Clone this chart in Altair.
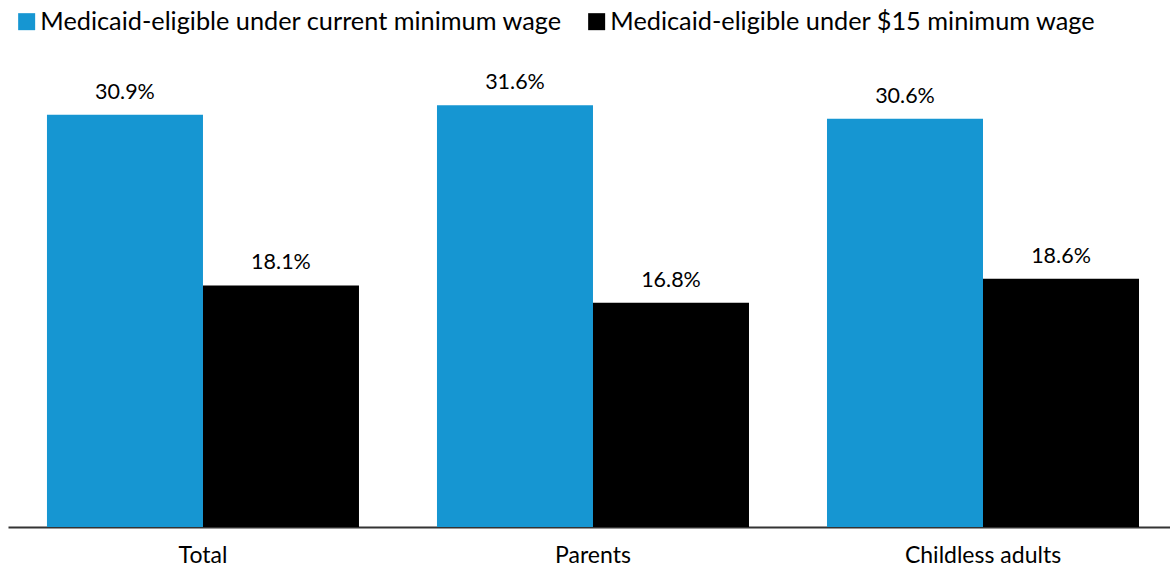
import altair as alt
import pandas as pd

categories = ["Total", "Parents", "Childless adults"]
series_names = ["Medicaid-eligible under current minimum wage", "Medicaid-eligible under $15 minimum wage"]
current_wage = [30.9, 31.6, 30.6]
fifteen_wage = [18.1, 16.8, 18.6]
colors = ["#1696d2", "#000000"]

rows = []
for c, a, b in zip(categories, current_wage, fifteen_wage):
    rows.append({"category": c, "series": series_names[0], "value": a})
    rows.append({"category": c, "series": series_names[1], "value": b})
df = pd.DataFrame(rows)

FONT = "Lato"

x = alt.X("category:N", sort=categories, title=None,
          scale=alt.Scale(paddingInner=0.2, paddingOuter=0.0897, align=0.557),
          axis=alt.Axis(labelAngle=0, labelFont=FONT, labelFontSize=23, labelColor="#000000",
                        labelPadding=17, ticks=False, domainColor="#333333", domainWidth=2))
xoff = alt.XOffset("series:N", sort=series_names, scale=alt.Scale(paddingInner=0, paddingOuter=0))
y = alt.Y("value:Q", scale=alt.Scale(domain=[0, 35], nice=False), axis=None)

base = alt.Chart(df).encode(x=x, xOffset=xoff, y=y)

bars = base.mark_bar().encode(
    color=alt.Color("series:N", sort=series_names,
                    scale=alt.Scale(domain=series_names, range=colors),
                    legend=alt.Legend(title=None, orient="none", direction="horizontal",
                                      legendX=6, legendY=-51, symbolType="square",
                                      symbolSize=289, symbolStrokeWidth=0, symbolOpacity=1,
                                      labelFont=FONT, labelFontSize=25.3, labelColor="#000000",
                                      labelOffset=1, columnPadding=21, labelLimit=800))
)

labels = base.mark_text(font=FONT, fontSize=21.5, color="#000000", baseline="alphabetic", dy=-16).transform_calculate(
    label="format(datum.value, '.1f') + '%'"
).encode(text="label:N")

chart = alt.layer(bars, labels).properties(
    width=1162, height=467,
    autosize=alt.AutoSizeParams(type="none"),
    padding={"left": 8, "top": 60, "right": 0, "bottom": 42},
).configure_view(stroke=None)

chart.save("out.html", embed_options={"renderer": "svg", "actions": False})
